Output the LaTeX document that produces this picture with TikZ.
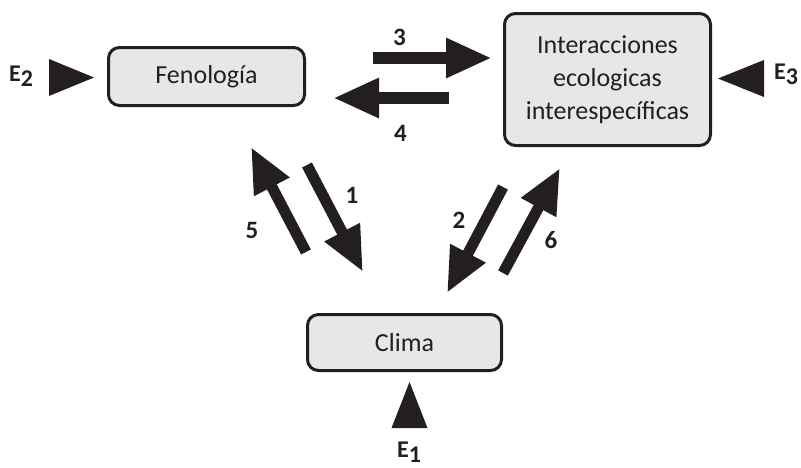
\documentclass[tikz,border=0pt]{standalone}
\usepackage{fontspec}
\setmainfont{Carlito}
\usetikzlibrary{arrows.meta}
\definecolor{ink}{HTML}{231F20}
\definecolor{boxfill}{HTML}{E6E7E8}
\tikzset{
  procbox/.style={draw=ink, fill=boxfill, line width=3pt, rounded corners=11pt,
    text=ink, font=\fontsize{26}{33}\selectfont, align=center, inner sep=0pt},
  flow/.style={draw=ink, line width=12pt,
    -{Triangle[width=37pt,length=46pt]}},
  dflow/.style={draw=ink, line width=11pt,
    -{Triangle[width=37pt,length=45pt]}},
  numlbl/.style={text=ink, font=\fontsize{25}{25}\selectfont\bfseries, inner sep=0pt},
  extlbl/.style={text=ink, font=\fontsize{24}{24}\selectfont\bfseries, inner sep=0pt, anchor=base west},
}
\newcommand{\extsub}[1]{E\raisebox{-5.5pt}{#1}}
\begin{document}
\begin{tikzpicture}[x=1pt,y=-1pt]
\useasboundingbox (0,0) rectangle (801,467);

% process boxes
\node[procbox, minimum width=196pt, minimum height=58pt] (fen) at (206.5,76.5) {Fenología};
\node[procbox, minimum width=206pt, minimum height=132pt] (int) at (607.5,79.5)
  {Interacciones\\ecologicas\\interespecíficas};
\node[procbox, minimum width=194pt, minimum height=56pt] (cli) at (404.5,342.5) {Clima};

% end points of the flows between the boxes
\coordinate (t3) at (373,58);  \coordinate (h3) at (492,58);
\coordinate (t4) at (449,98);  \coordinate (h4) at (333,98);
\coordinate (t5) at (306,252); \coordinate (h5) at (251,147);
\coordinate (t1) at (307,165); \coordinate (h1) at (363,272);
\coordinate (t2) at (503,187); \coordinate (h2) at (447,293);
\coordinate (t6) at (503,273); \coordinate (h6) at (560,168);

\draw[flow] (t3) -- (h3);
\draw[flow] (t4) -- (h4);
\draw[dflow] (t5) -- (h5);
\draw[dflow] (t1) -- (h1);
\draw[dflow] (t2) -- (h2);
\draw[dflow] (t6) -- (h6);

% flow numbers
\node[numlbl] (n3) at (399.5,37.5) {3};
\node[numlbl] (n4) at (400.5,133.5) {4};
\node[numlbl] (n1) at (352,195) {1};
\node[numlbl] (n5) at (252,230) {5};
\node[numlbl] (n2) at (459,220) {2};
\node[numlbl] (n6) at (551,240) {6};

% external inputs
\fill[ink] (49,59) -- (49,96) -- (94,77.5) -- cycle;
\fill[ink] (764,60) -- (764,97) -- (718,78.5) -- cycle;
\fill[ink] (391.5,428) -- (427.5,428) -- (409.5,382) -- cycle;

\node[extlbl] (e2) at (9,81) {\extsub{2}};
\node[extlbl] (e3) at (774,79) {\extsub{3}};
\node[extlbl] (e1) at (397,457) {\extsub{1}};
\end{tikzpicture}
\end{document}
